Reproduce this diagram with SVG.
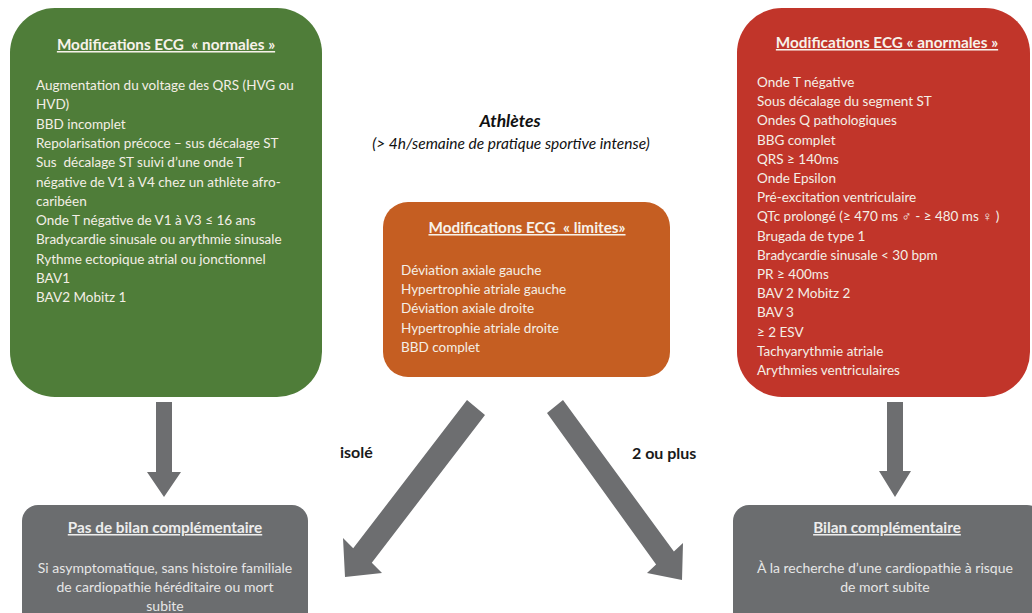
<svg xmlns="http://www.w3.org/2000/svg" width="1032" height="613" viewBox="0 0 1032 613">
<style>
.t{font-family:Lato,"Liberation Sans","DejaVu Sans",sans-serif;font-size:13.5px;fill:#f4efe6;white-space:pre}
.h{font-family:Lato,"Liberation Sans",sans-serif;font-size:15.3px;font-weight:bold;fill:#f7f2ea;text-decoration:underline;text-anchor:middle;white-space:pre}
.g{font-family:Lato,"Liberation Sans",sans-serif;font-size:14px;fill:#e6e6e6;text-anchor:middle}
.gh{font-family:Lato,"Liberation Sans",sans-serif;font-size:15.3px;font-weight:bold;fill:#ededed;text-decoration:underline;text-anchor:middle}
.lbl{font-family:Lato,"Liberation Sans",sans-serif;font-size:16px;font-weight:bold;fill:#1a1a1a}
.arr{fill:#6d6e70}
</style>
<rect width="1032" height="613" fill="#ffffff"/>

<g id="title">
<text x="510" y="127" font-family="Lato,'Liberation Sans',sans-serif" font-size="17.5" font-weight="bold" font-style="italic" fill="#111" text-anchor="middle">Athlètes</text>
<text x="511" y="149" font-family="Lato,'Liberation Sans',sans-serif" font-size="15.5" font-style="italic" fill="#111" text-anchor="middle">(&gt; 4h/semaine de pratique sportive intense)</text>
</g>

<g id="normales">
<rect x="10" y="8" width="312" height="389" rx="45" ry="45" fill="#4f7d39"/>
<text class="h" x="166" y="50">Modifications ECG  « normales »</text>
<text class="t" x="36" y="90">Augmentation du voltage des QRS (HVG ou</text>
<text class="t" x="36" y="109.3">HVD)</text>
<text class="t" x="36" y="128.6">BBD incomplet</text>
<text class="t" x="36" y="147.9">Repolarisation précoce – sus décalage ST</text>
<text class="t" x="36" y="167.2">Sus  décalage ST suivi d’une onde T</text>
<text class="t" x="36" y="186.5">négative de V1 à V4 chez un athlète afro-</text>
<text class="t" x="36" y="205.8">caribéen</text>
<text class="t" x="36" y="225.1">Onde T négative de V1 à V3 ≤ 16 ans</text>
<text class="t" x="36" y="244.4">Bradycardie sinusale ou arythmie sinusale</text>
<text class="t" x="36" y="263.7">Rythme ectopique atrial ou jonctionnel</text>
<text class="t" x="36" y="283">BAV1</text>
<text class="t" x="36" y="302.3">BAV2 Mobitz 1</text>
</g>

<g id="limites">
<rect x="383" y="202" width="287" height="175" rx="25" ry="25" fill="#c55e22"/>
<text class="h" x="527" y="233">Modifications ECG  « limites»</text>
<text class="t" x="401" y="275">Déviation axiale gauche</text>
<text class="t" x="401" y="294.2">Hypertrophie atriale gauche</text>
<text class="t" x="401" y="313.4">Déviation axiale droite</text>
<text class="t" x="401" y="332.6">Hypertrophie atriale droite</text>
<text class="t" x="401" y="351.8">BBD complet</text>
</g>

<g id="anormales">
<rect x="737" y="8" width="293" height="389" rx="45" ry="45" fill="#c1352a"/>
<text class="h" x="887" y="48">Modifications ECG « anormales »</text>
<text class="t" x="757" y="87">Onde T négative</text>
<text class="t" x="757" y="106.2">Sous décalage du segment ST</text>
<text class="t" x="757" y="125.4">Ondes Q pathologiques</text>
<text class="t" x="757" y="144.6">BBG complet</text>
<text class="t" x="757" y="163.8">QRS ≥ 140ms</text>
<text class="t" x="757" y="183">Onde Epsilon</text>
<text class="t" x="757" y="202.2">Pré-excitation ventriculaire</text>
<text class="t" x="757" y="221.4">QTc prolongé (≥ 470 ms ♂ - ≥ 480 ms ♀ )</text>
<text class="t" x="757" y="240.6">Brugada de type 1</text>
<text class="t" x="757" y="259.8">Bradycardie sinusale &lt; 30 bpm</text>
<text class="t" x="757" y="279">PR ≥ 400ms</text>
<text class="t" x="757" y="298.2">BAV 2 Mobitz 2</text>
<text class="t" x="757" y="317.4">BAV 3</text>
<text class="t" x="757" y="336.6">≥ 2 ESV</text>
<text class="t" x="757" y="355.8">Tachyarythmie atriale</text>
<text class="t" x="757" y="375">Arythmies ventriculaires</text>
</g>

<g id="pas-de-bilan">
<rect x="22" y="505" width="286" height="125" rx="16" ry="16" fill="#6b6d6f"/>
<text class="gh" x="165" y="533">Pas de bilan complémentaire</text>
<text class="g" x="165" y="573">Si asymptomatique, sans histoire familiale</text>
<text class="g" x="165" y="592">de cardiopathie héréditaire ou mort</text>
<text class="g" x="165" y="611">subite</text>
</g>

<g id="bilan">
<rect x="733" y="505" width="310" height="125" rx="16" ry="16" fill="#6b6d6f"/>
<text class="gh" x="887" y="533">Bilan complémentaire</text>
<text class="g" x="885" y="573">À la recherche d’une cardiopathie à risque</text>
<text class="g" x="885" y="592">de mort subite</text>
</g>

<g id="connectors">
<polygon class="arr" points="156,402 172,402 172,472 181,472 164,497 147,472 156,472"/>
<polygon class="arr" points="887,402 903,402 903,471 911,471 895,497 879,471 887,471"/>
<polygon class="arr" points="467,400 485,415 371.8,562.7 382,573 345,577 343,538 353.2,548.3"/>
<polygon class="arr" points="563,400 673.9,551.5 683,543 682,580 647,573 656.1,564.5 547,413"/>
<text class="lbl" x="340" y="458">isolé</text>
<text class="lbl" x="632" y="459">2 ou plus</text>
</g>
</svg>
